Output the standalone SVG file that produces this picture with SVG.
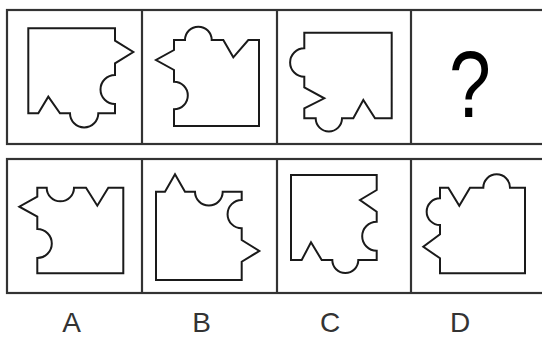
<svg xmlns="http://www.w3.org/2000/svg" width="542" height="337" viewBox="0 0 542 337">
<style>
.frame{fill:none;stroke:#333;stroke-width:2.2}
.shape{fill:#fff;stroke:#1a1a1a;stroke-width:2;stroke-linejoin:miter}
.lbl{font-family:"Liberation Sans",Arial,sans-serif;font-size:28px;fill:#333;text-anchor:middle}
.q{font-family:"Liberation Sans",Arial,sans-serif;font-size:94px;fill:#000;text-anchor:middle}
</style>
<rect width="542" height="337" fill="#fff"/>
<g id="frames">
<rect class="frame" x="7" y="10" width="540" height="134"/>
<line class="frame" x1="142" y1="10" x2="142" y2="144"/>
<line class="frame" x1="277" y1="10" x2="277" y2="144"/>
<line class="frame" x1="411" y1="10" x2="411" y2="144"/>
<rect class="frame" x="7" y="159" width="540" height="134"/>
<line class="frame" x1="142" y1="159" x2="142" y2="293"/>
<line class="frame" x1="277" y1="159" x2="277" y2="293"/>
<line class="frame" x1="411" y1="159" x2="411" y2="293"/>
</g>
<g id="q1">
<path class="shape" d="M28.3,28.3 H115 V40.7 L133.3,52 L115,63.3 V75 A14.5,14.5 0 0 0 115,104 V113.3 H98.3 A14.15,14.15 0 0 1 70,113.3 H60 L48.3,96.7 L38.3,113.3 H28.3 Z"/>
</g>
<g id="q2">
<path class="shape" d="M174,40 H185 A13.35,13.35 0 0 1 211.7,40 H223.3 L233.3,57.3 L248.3,40 H259 V126 H174 V109.3 A13.8,13.8 0 0 0 174,81.7 V70 L156,60 L174,50 Z"/>
</g>
<g id="q3">
<path class="shape" d="M304.3,32.7 H391.7 V118.3 H375 L363.3,100 L353.3,118.3 H342 A13.15,13.15 0 0 1 315.7,118.3 H304.3 V108.3 L324.3,98.3 L304.3,87.3 V76.7 A14.2,14.2 0 0 1 304.3,48.3 Z"/>
</g>
<g id="q4">
<text class="q" transform="translate(470,117) scale(0.8,1)">?</text>
</g>
<g id="optA">
<path class="shape" d="M37.3,187.7 H46.7 A13.65,13.65 0 0 0 74,187.7 H86 L97.3,205.7 L108.3,187.7 H123.3 V273.3 H37.3 V258 A14.5,14.5 0 0 0 37.3,229 V216.7 L19.3,206.7 L37.3,196.7 Z"/>
<text class="lbl" x="71.5" y="332">A</text>
</g>
<g id="optB">
<path class="shape" d="M156,191.7 H165 L175,174.3 L185,191.7 H195 A13.85,13.85 0 0 0 222.7,191.7 H241.7 V200 A14.15,14.15 0 0 0 241.7,228.3 V240 L259.3,251 L241.7,261.7 V280 H156 Z"/>
<text class="lbl" x="201.5" y="332">B</text>
</g>
<g id="optC">
<path class="shape" d="M291,175 H376.7 V190 L360,200 L376.7,211.7 V221.7 A14.5,14.5 0 0 0 376.7,250.7 V260 H358.3 A13,13 0 0 1 332.3,260 H321.7 L311,242.3 L301.7,260 H291 Z"/>
<text class="lbl" x="330" y="332">C</text>
</g>
<g id="optD">
<path class="shape" d="M440,187.7 H448.3 L459.3,205.7 L470,187.7 H483.3 A13.35,13.35 0 0 1 510,187.7 H525 V273.3 H440 V258.3 L423.3,246.7 L440,234.3 V225 A13.35,13.35 0 0 1 440,198.3 Z"/>
<text class="lbl" x="460" y="332">D</text>
</g>
</svg>
